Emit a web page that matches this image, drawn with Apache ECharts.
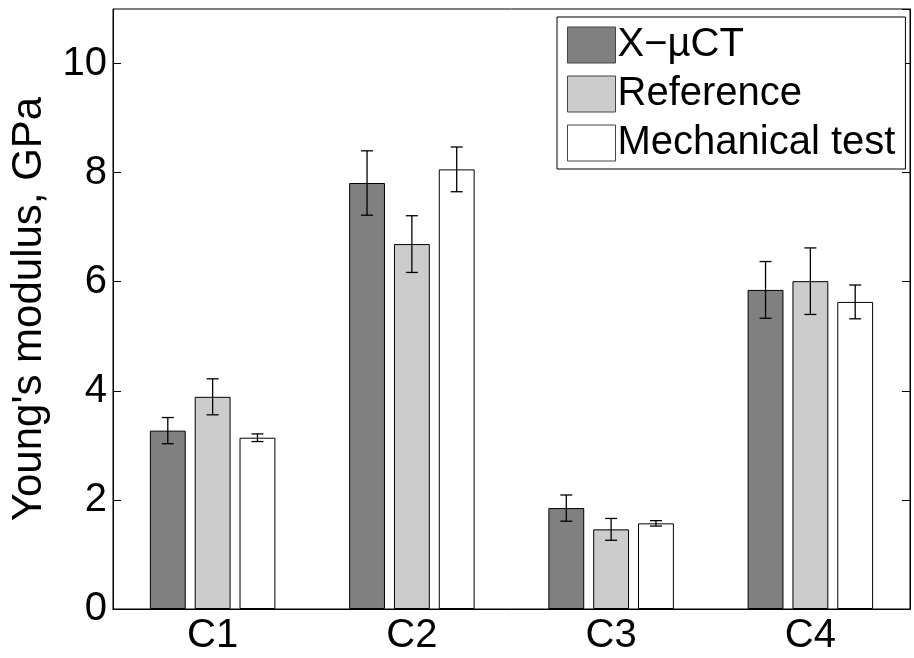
<!DOCTYPE html>
<html>
<head>
<meta charset="utf-8">
<script src="https://cdn.jsdelivr.net/npm/echarts@6/dist/echarts.min.js"></script>
<style>
  html, body { margin: 0; padding: 0; background: #fff; }
  #chart { width: 914px; height: 658px; }
</style>
</head>
<body>
<div id="chart"></div>
<script>
const categories = ["C1", "C2", "C3", "C4"];
const seriesNames = ["X\u2212\u00b5CT", "Reference", "Mechanical test"];
const xuct = [3.27, 7.81, 1.85, 5.85];
const reference = [3.89, 6.69, 1.46, 6.01];
const mechanical = [3.14, 8.06, 1.57, 5.63];
const xuctErr = [0.24, 0.59, 0.24, 0.52];
const referenceErr = [0.33, 0.52, 0.20, 0.61];
const mechanicalErr = [0.07, 0.41, 0.05, 0.31];
const yTicks = [0, 2, 4, 6, 8, 10];

const font = "'Liberation Sans', Arial, sans-serif";
const colors = ["#808080", "#cccccc", "#ffffff"];
const values = [xuct, reference, mechanical];
const errors = [xuctErr, referenceErr, mechanicalErr];

const barGap = 0.25;
const catGap = 0.37;

// error bar items: [category, low, high, series index]
const errData = [];
values.forEach((vals, k) => {
  vals.forEach((v, i) => {
    errData.push([i, v - errors[k][i], v + errors[k][i], k]);
  });
});

function renderErr(params, api) {
  const band = api.size([1, 0])[0];
  const barW = band * (1 - catGap) / (3 + 2 * barGap);
  const offset = (api.value(3) - 1) * barW * (1 + barGap);
  const lo = api.coord([api.value(0), api.value(1)]);
  const hi = api.coord([api.value(0), api.value(2)]);
  const x = lo[0] + offset;
  const cap = 6;
  const style = { stroke: "#000", lineWidth: 1.3 };
  return {
    type: "group",
    children: [
      { type: "line", shape: { x1: x, y1: lo[1], x2: x, y2: hi[1] }, style },
      { type: "line", shape: { x1: x - cap, y1: lo[1], x2: x + cap, y2: lo[1] }, style },
      { type: "line", shape: { x1: x - cap, y1: hi[1], x2: x + cap, y2: hi[1] }, style }
    ]
  };
}

const chart = echarts.init(document.getElementById("chart"));

chart.setOption({
  animation: false,
  textStyle: { fontFamily: font },
  grid: {
    left: 110, right: 4, top: 9, bottom: 49,
    show: true, borderColor: "#000", borderWidth: 1, backgroundColor: "#fff"
  },
  legend: {
    orient: "vertical",
    left: 557,
    top: 17,
    data: seriesNames,
    icon: "rect",
    itemWidth: 48,
    itemHeight: 36,
    itemGap: 9,
    padding: [8, 10, 6, 10],
    backgroundColor: "#fff",
    borderColor: "#000",
    borderWidth: 1,
    borderRadius: 0,
    textStyle: { fontFamily: font, fontSize: 40, lineHeight: 36, color: "#000", padding: [0, 0, 0, -3] },
    itemStyle: { borderColor: "#444", borderWidth: 1 }
  },
  xAxis: [
    {
      type: "category",
      data: categories,
      axisLine: { lineStyle: { color: "#000" } },
      axisTick: { inside: true, alignWithLabel: true, length: 8, lineStyle: { color: "#000" } },
      axisLabel: { color: "#000", fontSize: 40, fontFamily: font, margin: 7 }
    },
    {
      type: "category",
      position: "top",
      data: categories,
      axisLine: { lineStyle: { color: "#000" } },
      axisTick: { inside: true, alignWithLabel: true, length: 8, lineStyle: { color: "#000" } },
      axisLabel: { show: false }
    }
  ],
  yAxis: [
    {
      type: "value",
      min: 0,
      max: 11,
      interval: 2,
      name: "Young's modulus, GPa",
      nameLocation: "middle",
      nameGap: 63,
      nameTextStyle: { color: "#000", fontSize: 42, fontFamily: font },
      splitLine: { show: false },
      axisLine: { show: true, lineStyle: { color: "#000" } },
      axisTick: { show: true, inside: true, length: 8, lineStyle: { color: "#000" } },
      axisLabel: {
        color: "#000", fontSize: 40, fontFamily: font, margin: 6,
        showMaxLabel: false,
        formatter: v => (yTicks.includes(v) ? String(v) : "")
      }
    },
    {
      type: "value",
      position: "right",
      min: 0,
      max: 11,
      interval: 2,
      splitLine: { show: false },
      axisLine: { show: true, lineStyle: { color: "#000" } },
      axisTick: { show: true, inside: true, length: 8, lineStyle: { color: "#000" } },
      axisLabel: { show: false }
    }
  ],
  series: [
    ...seriesNames.map((name, k) => ({
      name,
      type: "bar",
      data: values[k],
      barGap: barGap * 100 + "%",
      barCategoryGap: catGap * 100 + "%",
      itemStyle: { color: colors[k], borderColor: "#000", borderWidth: 1 }
    })),
    {
      type: "custom",
      renderItem: renderErr,
      data: errData,
      encode: { x: 0, y: [1, 2] },
      z: 5
    }
  ]
});
</script>
</body>
</html>
